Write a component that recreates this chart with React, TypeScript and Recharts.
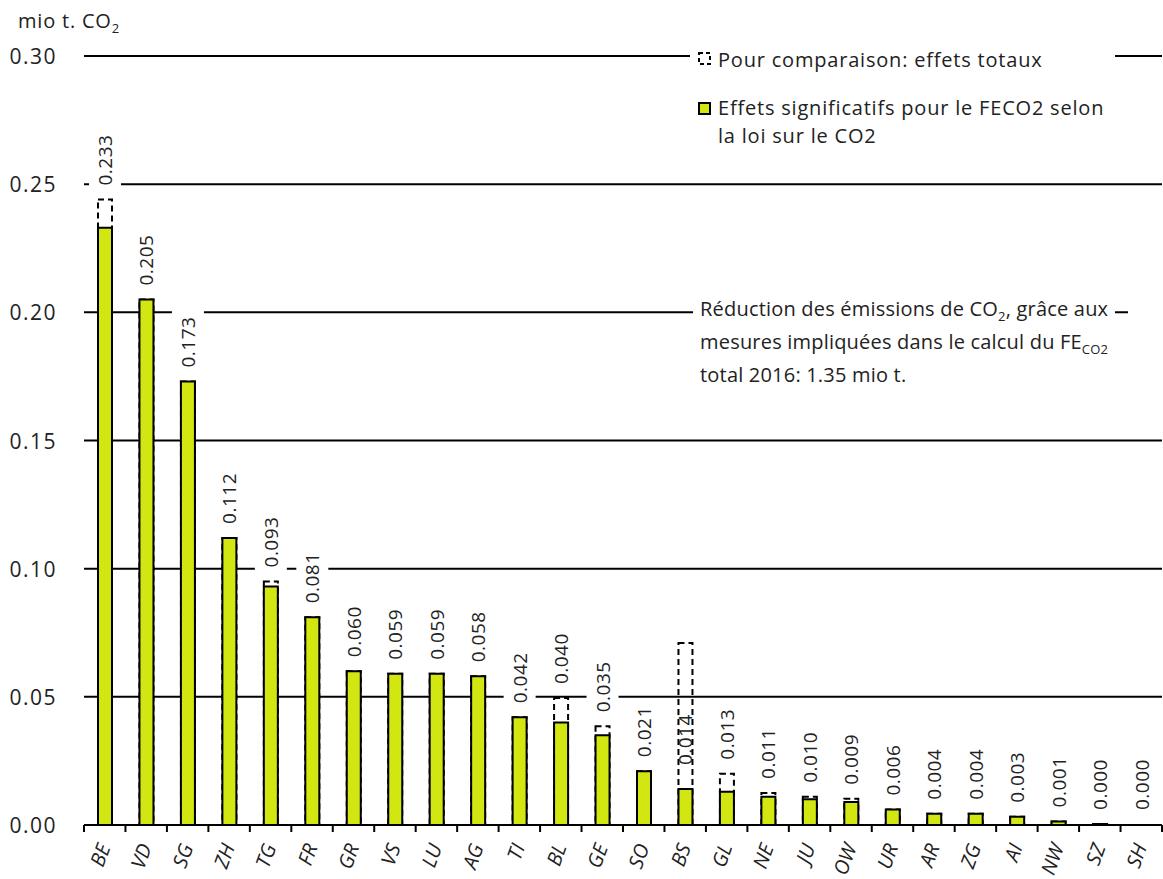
import React from 'react';
import { BarChart, Bar, XAxis, YAxis, CartesianGrid, LabelList, Legend } from 'recharts';

const cantons = ['BE', 'VD', 'SG', 'ZH', 'TG', 'FR', 'GR', 'VS', 'LU', 'AG', 'TI', 'BL', 'GE', 'SO', 'BS', 'GL', 'NE', 'JU', 'OW', 'UR', 'AR', 'ZG', 'AI', 'NW', 'SZ', 'SH'];
const effetsSignificatifs = [0.233, 0.205, 0.173, 0.112, 0.093, 0.081, 0.060, 0.059, 0.059, 0.058, 0.042, 0.040, 0.035, 0.021, 0.014, 0.013, 0.011, 0.010, 0.009, 0.006, 0.0044, 0.0044, 0.0032, 0.0014, 0.0004, 0];
const effetsTotaux = [0.244, 0.205, 0.173, 0.112, 0.095, 0.081, 0.060, 0.059, 0.059, 0.058, 0.042, 0.0495, 0.0385, 0.021, 0.071, 0.020, 0.0125, 0.011, 0.0102, 0.006, 0.0044, 0.0044, 0.0032, 0.0014, 0.0004, 0];
const yTicks = [0, 0.05, 0.10, 0.15, 0.20, 0.25, 0.30];

const data = cantons.map((c, i) => ({ canton: c, sig: effetsSignificatifs[i], total: effetsTotaux[i] }));

const W = 1163;
const H = 879;
const MARGIN = { top: 56, right: 1, bottom: 0, left: 0 };
const YW = 84;
const XH = 54;
const BAR = 14;
const FONT = '"Open Sans", "Noto Sans", sans-serif';
const GREEN = '#d2e612';
const TXT = '#222';

const XTick = (props: any) => {
  const { x, y, payload, index } = props;
  const bw = (W - MARGIN.left - MARGIN.right - YW) / cantons.length;
  const left = x - bw / 2;
  const ax = x + 6;
  const ay = y + 22;
  return (
    <g>
      <line x1={left} x2={left} y1={y} y2={y + 7} stroke="#000" strokeWidth={2} />
      {index === cantons.length - 1 && (
        <line x1={x + bw / 2} x2={x + bw / 2} y1={y} y2={y + 7} stroke="#000" strokeWidth={2} />
      )}
      <text
        x={ax}
        y={ay}
        transform={`rotate(-70 ${ax} ${ay})`}
        textAnchor="end"
        fontStyle="italic"
        fontSize={20}
        fill={TXT}
        fontFamily={FONT}
      >
        {payload.value}
      </text>
    </g>
  );
};

const YTick = (props: any) => {
  const { y, payload } = props;
  return (
    <text x={57} y={y} textAnchor="end" dominantBaseline="central" fontSize={21} letterSpacing={1.5} fill={TXT} fontFamily={FONT}>
      {Number(payload.value).toFixed(2)}
    </text>
  );
};

const ValueLabel = (props: any) => {
  const vb = props.viewBox || {};
  const x = props.x ?? vb.x;
  const y = props.y ?? vb.y;
  const width = props.width ?? vb.width;
  const height = props.height ?? vb.height;
  const index = props.index;
  const v = effetsSignificatifs[index];
  const t = effetsTotaux[index];
  if (v === undefined) return null;
  const cx = x + width / 2;
  let top = y;
  let inside = false;
  if (t > 0 && t > 3 * v) {
    top = y + height * (1 - v / t);
    inside = true;
  }
  const ay = top - (inside ? 24 : 14);
  return (
    <g transform={`translate(${cx},${ay}) rotate(-90)`}>
      {!inside && <rect x={-3} y={-16} width={60} height={32} fill="#fff" />}
      <text x={0} y={0} dominantBaseline="central" fontSize={19} letterSpacing={0.5} fill={TXT} fontFamily={FONT}>
        {v.toFixed(3)}
      </text>
    </g>
  );
};

const LegendContent = () => (
  <div style={{ fontFamily: FONT, fontSize: 20, letterSpacing: 0.8, color: TXT, background: '#fff', paddingLeft: 8, paddingTop: 4, paddingBottom: 6 }}>
    <div style={{ display: 'flex', alignItems: 'center', height: 30 }}>
      <svg width={14} height={14} style={{ marginRight: 6 }}>
        <rect x={1} y={1} width={11} height={11} fill="none" stroke="#000" strokeWidth={2} strokeDasharray="4 3" />
      </svg>
      <span>Pour comparaison: effets totaux</span>
    </div>
    <div style={{ display: 'flex', alignItems: 'flex-start', marginTop: 20 }}>
      <svg width={14} height={14} style={{ marginRight: 6, marginTop: 8 }}>
        <rect x={1} y={1} width={11} height={11} fill={GREEN} stroke="#000" strokeWidth={2} />
      </svg>
      <span style={{ lineHeight: '28px' }}>
        Effets significatifs pour le FECO2 selon
        <br />
        la loi sur le CO2
      </span>
    </div>
  </div>
);

export default function App() {
  return (
    <div style={{ position: 'absolute', left: 0, top: 0, width: W, height: H, overflow: 'hidden', background: '#fff' }}>
      <BarChart width={W} height={H} data={data} margin={MARGIN} barCategoryGap={0} barGap={-BAR}>
        <CartesianGrid vertical={false} stroke="#000" strokeWidth={2} />
        <XAxis
          dataKey="canton"
          height={XH}
          interval={0}
          tickLine={false}
          tickSize={0}
          tickMargin={0}
          axisLine={{ stroke: '#000', strokeWidth: 2 }}
          tick={<XTick />}
        />
        <YAxis
          domain={[0, 0.3]}
          ticks={yTicks}
          width={YW}
          axisLine={false}
          tickLine={false}
          tick={<YTick />}
          interval={0}
        />
        <Bar dataKey="total" barSize={BAR} fill="none" stroke="#000" strokeWidth={2} strokeDasharray="6 4" isAnimationActive={false} />
        <Bar dataKey="sig" barSize={BAR} fill={GREEN} stroke="#000" strokeWidth={2} isAnimationActive={false} />
        <Bar dataKey="total" barSize={BAR} fill="none" stroke="none" minPointSize={1} isAnimationActive={false}>
          <LabelList dataKey="total" content={<ValueLabel />} />
        </Bar>
        <Legend
          layout="vertical"
          align="center"
          verticalAlign="middle"
          wrapperStyle={{ position: 'absolute', left: 690, top: 40, width: 425, height: 'auto' }}
          content={() => <LegendContent />}
        />
      </BarChart>
      <div style={{ position: 'absolute', left: 18, top: 7, fontFamily: FONT, fontSize: 20, letterSpacing: 0.8, color: TXT, whiteSpace: 'nowrap' }}>
        mio t. CO<sub style={{ fontSize: 13 }}>2</sub>
      </div>
      <div style={{ position: 'absolute', left: 693, top: 298, width: 422, height: 28, background: '#fff' }} />
      <div style={{ position: 'absolute', left: 1128, top: 298, width: 40, height: 28, background: '#fff' }} />
      <div style={{ position: 'absolute', left: 700, top: 292, fontFamily: FONT, fontSize: 20, letterSpacing: 0.2, color: TXT, lineHeight: '33px', whiteSpace: 'nowrap' }}>
        <div>Réduction des émissions de CO<sub style={{ fontSize: 13, lineHeight: 0 }}>2</sub>, grâce aux</div>
        <div>mesures impliquées dans le calcul du FE<sub style={{ fontSize: 13, lineHeight: 0 }}>CO2</sub></div>
        <div>total 2016: 1.35 mio t.</div>
      </div>
    </div>
  );
}
